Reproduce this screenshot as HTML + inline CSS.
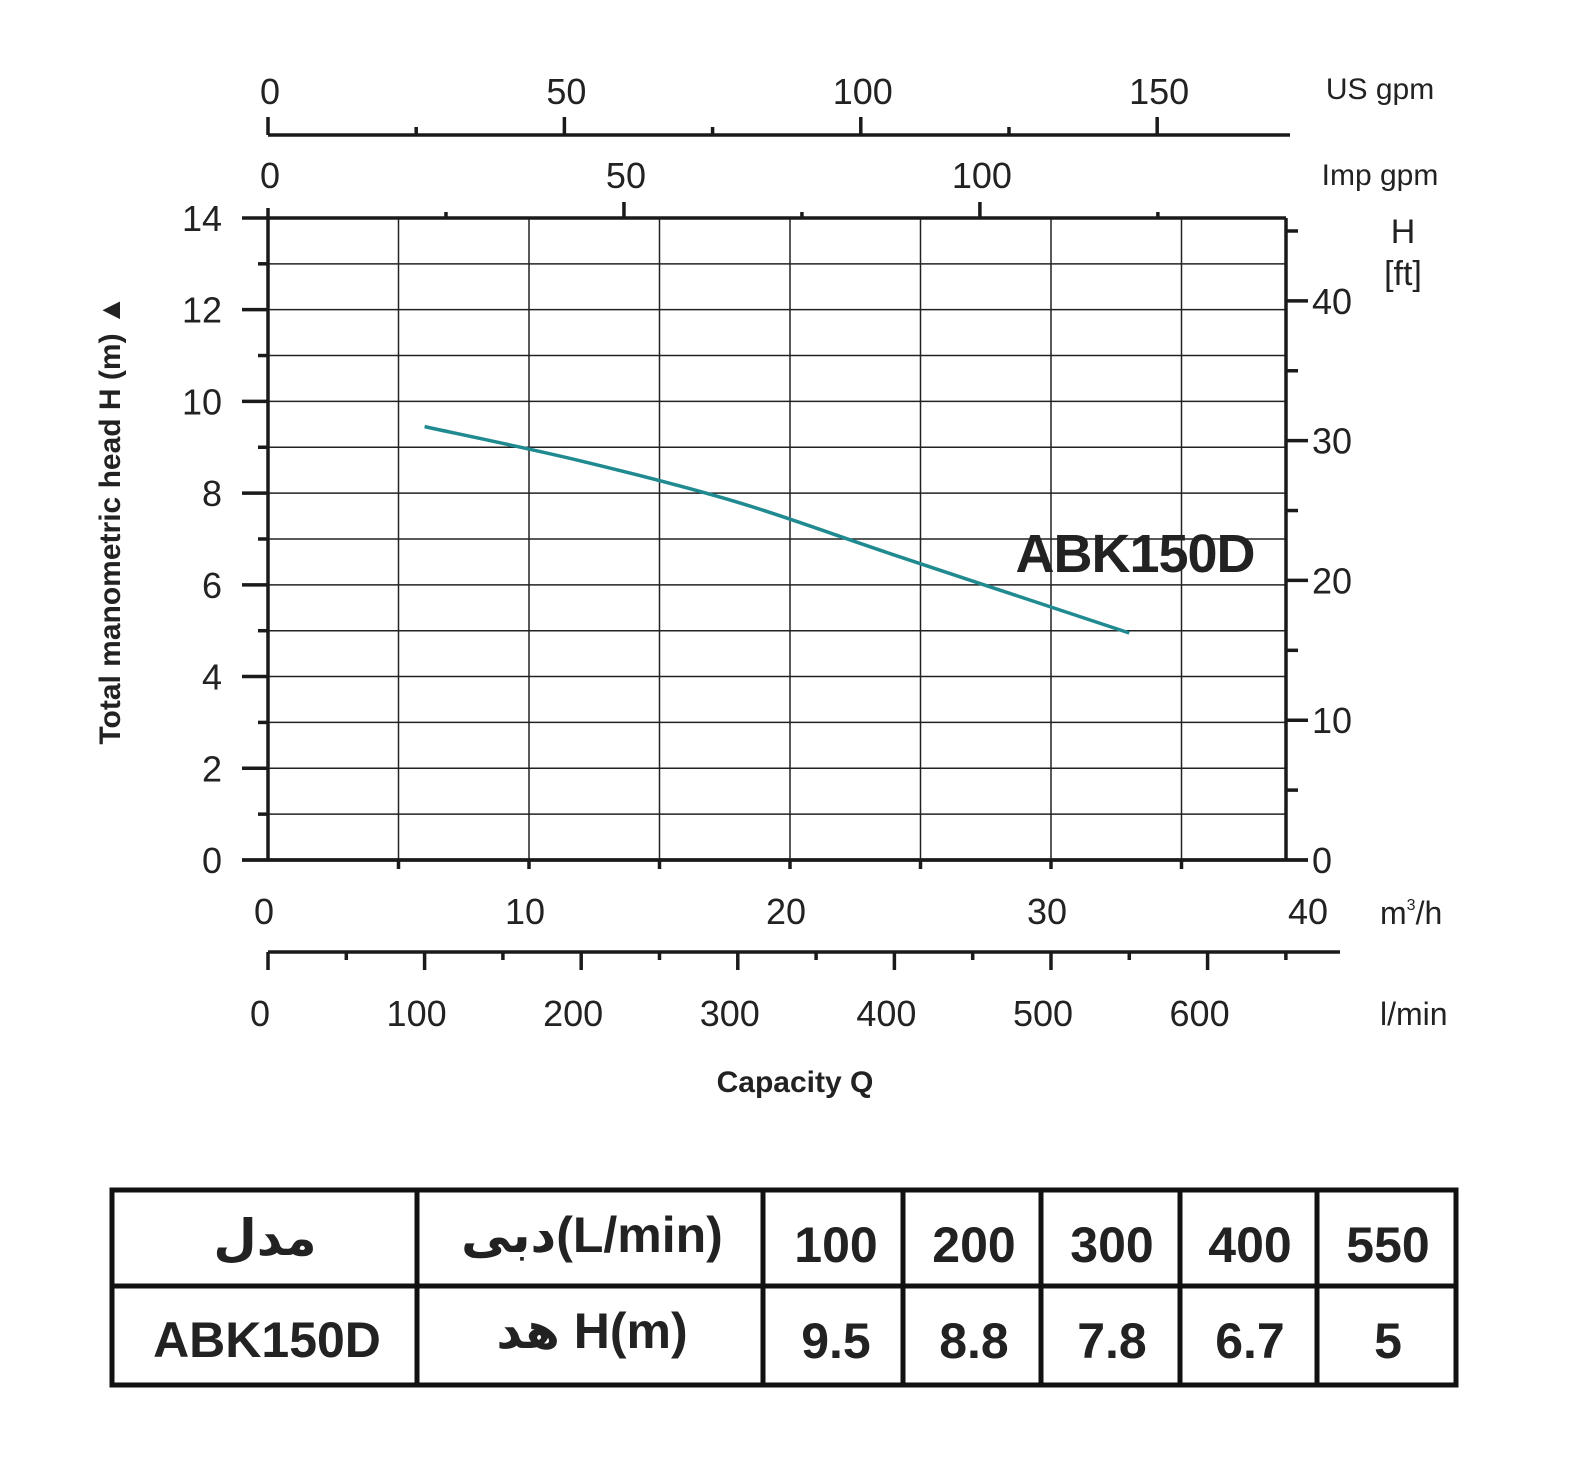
<!DOCTYPE html>
<html><head><meta charset="utf-8">
<style>
html,body{margin:0;padding:0;background:#fff;overflow:hidden;width:1589px;height:1473px;}
svg{display:block;}
svg text{font-family:"Liberation Sans","DejaVu Sans",sans-serif;fill:#222;}
</style></head>
<body>
<svg id="c" width="1589" height="1473" viewBox="0 0 1589 1473" xmlns="http://www.w3.org/2000/svg">
<g id="grid"></g>
<g id="axes"></g>
<g id="series"></g>
<text x="1135" y="572" font-size="54" font-weight="bold" text-anchor="middle" fill="#111" style="letter-spacing:-1px">ABK150D</text>
<text x="795" y="1092" font-size="30" font-weight="bold" text-anchor="middle">Capacity Q</text>
<text transform="translate(120,520) rotate(-90)" font-size="30" font-weight="bold" text-anchor="middle">Total manometric head H (m) ▲</text>
<text x="1380" y="99" font-size="30" text-anchor="middle">US gpm</text>
<text x="1380" y="185" font-size="30" text-anchor="middle">Imp gpm</text>
<text x="1403" y="243" font-size="34" text-anchor="middle">H</text>
<text x="1403" y="285" font-size="34" text-anchor="middle">[ft]</text>
<text x="1380" y="924" font-size="32">m<tspan font-size="16" dy="-14">3</tspan><tspan dy="14">/h</tspan></text>
<text x="1380" y="1025" font-size="32">l/min</text>
<g>
<rect x="112" y="1190" width="1344" height="195" fill="none" stroke="#111" stroke-width="5"/>
<line x1="112" y1="1286" x2="1456" y2="1286" stroke="#111" stroke-width="5"/>
<line x1="417" y1="1190" x2="417" y2="1385" stroke="#111" stroke-width="5"/>
<line x1="763" y1="1190" x2="763" y2="1385" stroke="#111" stroke-width="5"/>
<line x1="903" y1="1190" x2="903" y2="1385" stroke="#111" stroke-width="5"/>
<line x1="1041" y1="1190" x2="1041" y2="1385" stroke="#111" stroke-width="5"/>
<line x1="1180" y1="1190" x2="1180" y2="1385" stroke="#111" stroke-width="5"/>
<line x1="1317" y1="1190" x2="1317" y2="1385" stroke="#111" stroke-width="5"/>
<g font-size="50" font-weight="bold" text-anchor="middle">
<text x="265" y="1255" fill="#3a3a3a" direction="rtl">مدل</text>
<text x="592" y="1252" fill="#3a3a3a">دبی(L/min)</text>
<text x="836" y="1262" fill="#3a3a3a">100</text>
<text x="974" y="1262" fill="#3a3a3a">200</text>
<text x="1112" y="1262" fill="#3a3a3a">300</text>
<text x="1250" y="1262" fill="#3a3a3a">400</text>
<text x="1388" y="1262" fill="#3a3a3a">550</text>
<text x="267" y="1357" fill="#3a3a3a">ABK150D</text>
<text x="592" y="1348" fill="#3a3a3a">هد H(m)</text>
<text x="836" y="1358" fill="#3a3a3a">9.5</text>
<text x="974" y="1358" fill="#3a3a3a">8.8</text>
<text x="1112" y="1358" fill="#3a3a3a">7.8</text>
<text x="1250" y="1358" fill="#3a3a3a">6.7</text>
<text x="1388" y="1358" fill="#3a3a3a">5</text>
</g></g>
</svg>
<script>
const flowLmin=[100,200,300,400,550];
const headM=[9.45,8.7,7.8,6.65,4.95];
const m3hTicks=[0,10,20,30,40];
const lminTicks=[0,100,200,300,400,500,600];
const headTicks=[0,2,4,6,8,10,12,14];
const ftTicks=[0,10,20,30,40];
const impTicks=[0,50,100];
const usTicks=[0,50,100,150];
const NS='http://www.w3.org/2000/svg';
const X0=268,PXM3=26.1,Y0=860,PXM=45.86,XR=1286,YT=218;
const xm3=q=>X0+q*PXM3;
const xl=l=>X0+l*PXM3/16.667;
const yH=h=>Y0-h*PXM;
const yFt=f=>Y0-f*0.3048*PXM;
const xImp=g=>xl(g*4.54609);
const xUS=g=>xl(g*3.78541);
function mk(p,t,a){const e=document.createElementNS(NS,t);for(const k in a)e.setAttribute(k,a[k]);p.appendChild(e);return e;}
const grid=document.getElementById('grid'),axes=document.getElementById('axes'),ser=document.getElementById('series');
for(let h=1;h<14;h++){const l=mk(grid,'line',{x1:X0,x2:XR,y1:yH(h),y2:yH(h),stroke:'#222','stroke-width':1.5});

}
for(let q=5;q<39;q+=5){const l=mk(grid,'line',{x1:xm3(q),x2:xm3(q),y1:YT,y2:Y0,stroke:'#222','stroke-width':1.5});

}
const S={stroke:'#1a1a1a','stroke-width':3.5};
function L(x1,y1,x2,y2,w){return mk(axes,'line',Object.assign({},S,{x1,y1,x2,y2},w?{'stroke-width':w}:{}));}
function T(x,y,s,fs,anc){const t=mk(axes,'text',{x,y,'font-size':fs||36,'text-anchor':anc||'middle'});t.textContent=s;return t;}
L(X0,YT,XR,YT);L(X0,Y0,XR,Y0);L(X0,YT-10,X0,Y0);L(XR,YT,XR,Y0);
L(X0-26,Y0,XR+22,Y0);
for(let h=0;h<=14;h++){L(X0-(h%2?10:26),yH(h),X0,yH(h));}
headTicks.forEach(h=>{const t=T(222,yH(h)+13,String(h),36,'end');});
for(let f=0;f<=45;f+=5){if(yFt(f)<YT)break;L(XR,yFt(f),XR+(f%10?12:22),yFt(f));}
ftTicks.forEach(f=>{const t=T(1312,yFt(f)+13,String(f),36,'start');});
for(let q=5;q<39;q+=5)L(xm3(q),Y0,xm3(q),Y0+9);
m3hTicks.forEach(q=>{const t=T(xm3(q)-4,924,String(q),36);});
const YL=952;L(X0,YL,1340,YL);
for(let l=0;l<=650;l+=50)L(xl(l),YL,xl(l),YL+(l%100?8:18));
lminTicks.forEach(l=>{const t=T(xl(l)-8,1026,String(l),36);});
for(let g=25;g<=125;g+=25)L(xImp(g),YT,xImp(g),YT-(g%50?6:16));
impTicks.forEach(g=>{const t=T(xImp(g)+2,188,String(g),36);});
const YU=135;L(X0,YU,1290,YU);
for(let g=0;g<=150;g+=25)L(xUS(g),YU,xUS(g),YU-(g%50?8:18));
usTicks.forEach(g=>{const t=T(xUS(g)+2,104,String(g),36);});
const P=flowLmin.map((l,i)=>[xl(l),yH(headM[i])]);
let d='M'+P[0][0]+','+P[0][1];
for(let i=0;i<P.length-1;i++){const p0=P[i-1]||P[i],p1=P[i],p2=P[i+1],p3=P[i+2]||p2;
const c1=[p1[0]+(p2[0]-p0[0])/6,p1[1]+(p2[1]-p0[1])/6],c2=[p2[0]-(p3[0]-p1[0])/6,p2[1]-(p3[1]-p1[1])/6];
d+=' C'+c1+' '+c2+' '+p2;}
const c=mk(ser,'path',{d,fill:'none',stroke:'#1f8a90','stroke-width':3.5});


</script>
</body></html>
